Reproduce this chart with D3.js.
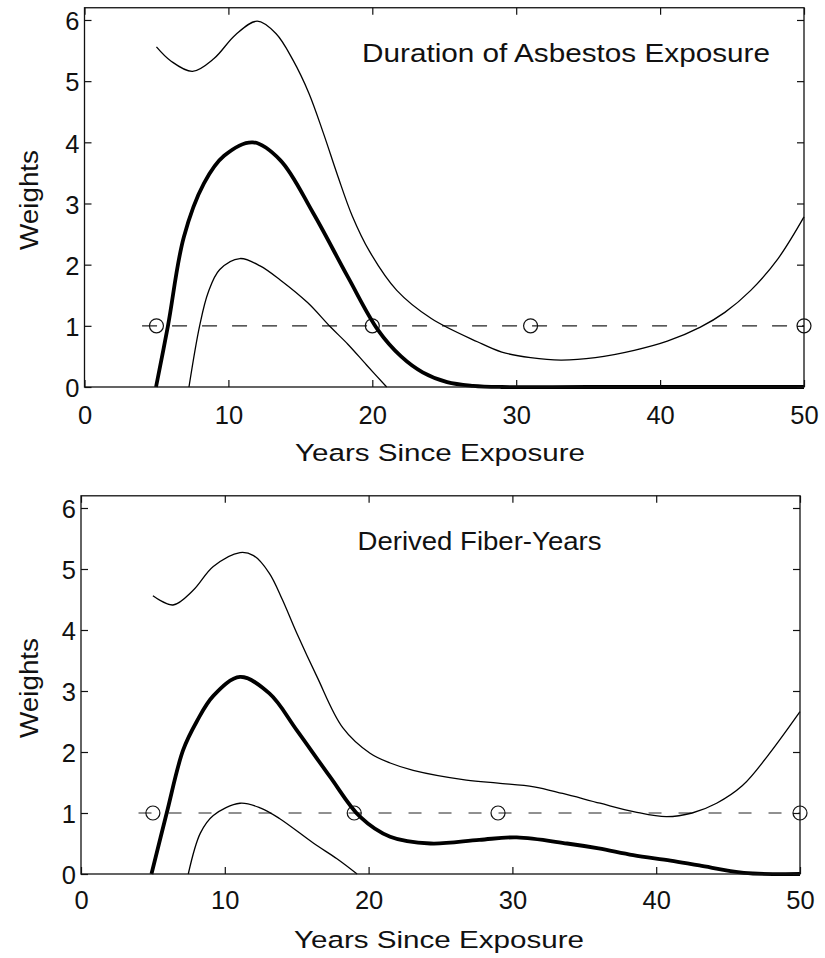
<!DOCTYPE html>
<html>
<head>
<meta charset="utf-8">
<script src="https://cdn.jsdelivr.net/npm/d3@7/dist/d3.min.js"></script>
<style>
  html, body { margin: 0; padding: 0; background: #fff; }
  svg { display: block; }
  text { font-family: "Liberation Sans", Arial, Helvetica, sans-serif; fill: #111; }
</style>
</head>
<body>
<svg id="chart" width="825" height="958"></svg>
<script>
// ---------------- DATA ----------------
const xTickValues = [0, 10, 20, 30, 40, 50];
const yTickValues = [0, 1, 2, 3, 4, 5, 6];
const titles = ["Duration of Asbestos Exposure", "Derived Fiber-Years"];
const xAxisLabel = "Years Since Exposure";
const yAxisLabel = "Weights";
const referenceLevel = 1;
const referenceStart = 4;

// Panel 1: Duration of Asbestos Exposure
const durationUpper = [
  [5.0, 5.56], [6.0, 5.33], [7.5, 5.16], [9.0, 5.37], [10.5, 5.76], [12.0, 5.98],
  [13.3, 5.78], [14.5, 5.34], [15.6, 4.80], [16.6, 4.15], [17.6, 3.45], [18.6, 2.80],
  [19.8, 2.22], [21.7, 1.58], [24.1, 1.12], [27.3, 0.74], [29.0, 0.57], [31.0, 0.48],
  [33.1, 0.44], [35.5, 0.48], [38.2, 0.60], [40.5, 0.75], [42.8, 0.98], [44.5, 1.22],
  [46.3, 1.58], [48.2, 2.10], [50.0, 2.78]
];
const durationEstimate = [
  [4.97, 0], [5.8, 1.0], [6.9, 2.45], [8.3, 3.33], [9.7, 3.78], [11.7, 4.0],
  [13.6, 3.71], [15.9, 2.84], [18.3, 1.80], [20.4, 0.93], [22.0, 0.50], [23.5, 0.24],
  [25.2, 0.08], [27.0, 0.02], [29.0, 0], [35.0, 0], [50.0, 0]
];
const durationLower = [
  [7.26, 0], [8.0, 1.0], [8.6, 1.55], [9.4, 1.92], [10.8, 2.10], [12.2, 1.98],
  [13.6, 1.75], [15.5, 1.38], [17.1, 0.98], [18.3, 0.70], [19.6, 0.36], [21.0, 0]
];
const durationKnots = [5, 20, 31, 50];

// Panel 2: Derived Fiber-Years
const fiberUpper = [
  [5.0, 4.56], [6.4, 4.41], [7.8, 4.65], [9.2, 5.04], [11.06, 5.27], [12.0, 5.22],
  [13.1, 4.93], [14.0, 4.50], [15.0, 3.95], [16.4, 3.24], [18.2, 2.40], [20.1, 1.98],
  [21.5, 1.82], [23.1, 1.70], [26.8, 1.54], [29.0, 1.49], [31.5, 1.43], [33.5, 1.32],
  [36.1, 1.16], [38.5, 1.02], [40.7, 0.94], [42.5, 1.00], [44.2, 1.16], [46.0, 1.45],
  [47.7, 1.92], [50.0, 2.66]
];
const fiberEstimate = [
  [4.9, 0], [5.96, 1.0], [7.1, 2.03], [8.05, 2.50], [9.2, 2.92], [11.06, 3.23],
  [13.1, 2.96], [15.0, 2.36], [17.3, 1.60], [19.4, 0.94], [21.5, 0.61], [24.3, 0.50],
  [27.7, 0.56], [30.3, 0.60], [33.8, 0.50], [36.0, 0.42], [38.4, 0.31], [41.0, 0.22],
  [43.0, 0.14], [46.1, 0.02], [50.0, 0]
];
const fiberLower = [
  [7.46, 0], [8.3, 0.67], [9.2, 0.96], [11.06, 1.16], [12.5, 1.08], [13.8, 0.91],
  [16.2, 0.50], [17.8, 0.25], [19.2, 0]
];
const fiberKnots = [5, 19, 29, 50];

// ---------------- LAYOUT ----------------
const svg = d3.select("#chart");

const panels = [
  {
    title: titles[0], upper: durationUpper, est: durationEstimate, lower: durationLower, knots: durationKnots,
    x0: 84.5, x1: 804, y0: 387, unit: 61.17,
    titleX: 566, titleY: 61.7, titleW: 408,
    xlabX: 440, xlabY: 460.7, ylabY: 200, dash: "15,15", tickPad: 19
  },
  {
    title: titles[1], upper: fiberUpper, est: fiberEstimate, lower: fiberLower, knots: fiberKnots,
    x0: 81, x1: 800, y0: 874, unit: 61.0,
    titleX: 479.5, titleY: 550, titleW: 244,
    xlabX: 439, xlabY: 948, ylabY: 688, dash: "13,17", tickPad: 17
  }
];

panels.forEach(p => {
  const yMax = 6.2;
  const x = d3.scaleLinear().domain([0, 50]).range([p.x0, p.x1]);
  const y = d3.scaleLinear().domain([0, yMax]).range([p.y0, p.y0 - yMax * p.unit]);
  const g = svg.append("g");

  const line = d3.line().x(d => x(d[0])).y(d => y(d[1])).curve(d3.curveCatmullRom.alpha(0.5));

  // reference dashed line
  g.append("path")
    .datum([[referenceStart, referenceLevel], [50, referenceLevel]])
    .attr("d", d3.line().x(d => x(d[0])).y(d => y(d[1])))
    .attr("fill", "none").attr("stroke", "#222").attr("stroke-width", 1.2)
    .attr("stroke-dasharray", p.dash);

  // knots
  g.selectAll("circle.knot").data(p.knots).enter().append("circle")
    .attr("class", "knot")
    .attr("cx", d => x(d)).attr("cy", y(referenceLevel)).attr("r", 7)
    .attr("fill", "none").attr("stroke", "#111").attr("stroke-width", 1.2);

  // curves
  [[p.upper, 1.3], [p.lower, 1.3], [p.est, 3.8]].forEach(([data, w]) => {
    g.append("path").datum(data).attr("d", line)
      .attr("fill", "none").attr("stroke", "#000").attr("stroke-width", w)
      .attr("stroke-linejoin", "round").attr("stroke-linecap", "butt");
  });

  // axes (ticks inward on all four sides)
  const axisStyle = sel => {
    sel.select(".domain").remove();
    sel.selectAll(".tick line").attr("stroke", "#111").attr("stroke-width", 1.2);
  };
  const bottomAxis = g.append("g").attr("transform", `translate(0,${y(0)})`)
    .call(d3.axisBottom(x).tickValues(xTickValues).tickFormat(d3.format("d"))
      .tickSizeInner(-7).tickSizeOuter(0).tickPadding(p.tickPad))
    .call(axisStyle);
  bottomAxis.selectAll(".tick text").attr("font-size", 25.5).attr("fill", "#111")
    .attr("font-family", '"Liberation Sans", Arial, sans-serif');

  const leftAxis = g.append("g").attr("transform", `translate(${x(0)},0)`)
    .call(d3.axisLeft(y).tickValues(yTickValues).tickFormat(d3.format("d"))
      .tickSizeInner(-7).tickSizeOuter(0).tickPadding(5))
    .call(axisStyle);
  leftAxis.selectAll(".tick text").attr("font-size", 25.5).attr("fill", "#111")
    .attr("font-family", '"Liberation Sans", Arial, sans-serif').attr("dy", "0.38em");

  g.append("g").attr("transform", `translate(0,${y(yMax)})`)
    .call(d3.axisTop(x).tickValues(xTickValues).tickFormat("").tickSizeInner(-7).tickSizeOuter(0))
    .call(axisStyle);
  g.append("g").attr("transform", `translate(${x(50)},0)`)
    .call(d3.axisRight(y).tickValues(yTickValues).tickFormat("").tickSizeInner(-7).tickSizeOuter(0))
    .call(axisStyle);

  // frame
  g.append("rect")
    .attr("x", x(0)).attr("y", y(yMax))
    .attr("width", x(50) - x(0)).attr("height", y(0) - y(yMax))
    .attr("fill", "none").attr("stroke", "#111").attr("stroke-width", 1.3);

  // title
  g.append("text").attr("x", p.titleX).attr("y", p.titleY)
    .attr("text-anchor", "middle").attr("font-size", 25)
    .attr("textLength", p.titleW).attr("lengthAdjust", "spacingAndGlyphs")
    .text(p.title);

  // x label
  g.append("text").attr("x", p.xlabX).attr("y", p.xlabY)
    .attr("text-anchor", "middle").attr("font-size", 24.5)
    .attr("textLength", 290).attr("lengthAdjust", "spacingAndGlyphs")
    .text(xAxisLabel);

  // y label
  g.append("text")
    .attr("transform", `translate(38,${p.ylabY}) rotate(-90)`)
    .attr("text-anchor", "middle").attr("font-size", 25.5)
    .attr("textLength", 100).attr("lengthAdjust", "spacingAndGlyphs")
    .text(yAxisLabel);
});
</script>
</body>
</html>
